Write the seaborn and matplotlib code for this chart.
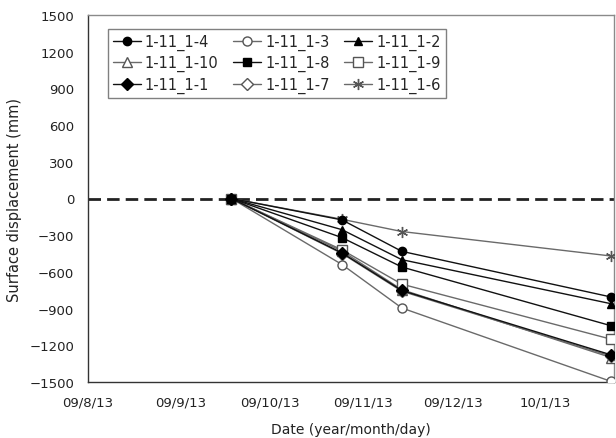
import matplotlib
matplotlib.use("Agg")
import matplotlib.pyplot as plt
import pandas as pd
import seaborn as sns

sns.set_theme(style="white")
plt.rcParams['font.family'] = ['DejaVu Sans']

# Survey dates and surface displacement readings (mm) per measuring point
dates = ["2009-09-30", "2009-11-06", "2009-11-26", "2010-02-04"]
names = ["1-11_1-4", "1-11_1-3", "1-11_1-2",
         "1-11_1-10", "1-11_1-8", "1-11_1-9",
         "1-11_1-1", "1-11_1-7", "1-11_1-6"]
p1_11_1_4 = [0, -175, -432, -805]
p1_11_1_3 = [0, -540, -895, -1495]
p1_11_1_2 = [0, -255, -500, -860]
p1_11_1_10 = [0, -430, -745, -1300]
p1_11_1_8 = [0, -320, -560, -1040]
p1_11_1_9 = [0, -420, -700, -1150]
p1_11_1_1 = [0, -445, -752, -1278]
p1_11_1_7 = [0, -450, -758, -1288]
p1_11_1_6 = [0, -170, -270, -470]
values = [p1_11_1_4, p1_11_1_3, p1_11_1_2,
          p1_11_1_10, p1_11_1_8, p1_11_1_9,
          p1_11_1_1, p1_11_1_7, p1_11_1_6]

tick_dates = ["2009-08-13", "2009-09-13", "2009-10-13",
              "2009-11-13", "2009-12-13", "2010-01-13"]
tick_labels = ["09/8/13", "09/9/13", "09/10/13", "09/11/13", "09/12/13", "10/1/13"]
y_ticks = [-1500, -1200, -900, -600, -300, 0, 300, 600, 900, 1200, 1500]

# marker, filled?
styles = [("o", True), ("o", False), ("^", True),
          ("^", False), ("s", True), ("s", False),
          ("D", True), ("D", False), ((6, 2, 0), False)]

x = pd.to_datetime(dates)

fig = plt.figure(figsize=(6.16, 4.39), dpi=100)
ax = fig.add_axes([88 / 616, 1 - 383 / 439, 526 / 616, 367 / 439])

ax.axhline(0, color="#222222", lw=2.0, dashes=(4.5, 2.2), zorder=1)

for name, vals, (mk, filled) in zip(names, values, styles):
    if filled:
        lc, fc, ec, ms, z = "#111111", "#000000", "#000000", 6, 4
    else:
        lc, fc, ec, ms, z = "#6a6a6a", "white", "#555555", 6.5, 3
    if mk == (6, 2, 0):
        fc = "#555555"
        ms = 8
    sns.lineplot(x=x, y=vals, ax=ax, color=lc, lw=1.0, marker=mk,
                 markersize=ms, markerfacecolor=fc, markeredgecolor=ec,
                 markeredgewidth=1.0, label=name, zorder=z)

h, l = ax.get_legend_handles_labels()
lookup = dict(zip(l, h))
# legend reads across rows: reorder for matplotlib's column-major fill
order = [0, 3, 6, 1, 4, 7, 2, 5, 8]
leg = ax.legend([lookup[names[i]] for i in order], [names[i] for i in order],
                ncol=3, loc="upper left", bbox_to_anchor=(0.038, 0.962),
                fontsize=10.5, frameon=True, fancybox=False, framealpha=1,
                edgecolor="#808080", handlelength=1.9, handletextpad=0.3,
                columnspacing=1.0, labelspacing=0.36, borderpad=0.33,
                borderaxespad=0)
leg.get_frame().set_linewidth(1.0)

ax.set_xlim(pd.Timestamp("2009-08-13"), pd.Timestamp("2010-02-05"))
ax.set_ylim(-1500, 1500)
ax.set_xticks(pd.to_datetime(tick_dates))
ax.set_xticklabels(tick_labels)
ax.set_yticks(y_ticks)
ax.tick_params(axis="both", direction="in", length=4, width=0.8,
               colors="#333333", labelsize=9.5, labelcolor="#222222")
ax.tick_params(axis="x", pad=9.5)
ax.tick_params(axis="y", pad=10)

for side in ["left", "bottom"]:
    ax.spines[side].set_color("#333333")
    ax.spines[side].set_linewidth(1.0)
for side in ["top", "right"]:
    ax.spines[side].set_color("#8a8a8a")
    ax.spines[side].set_linewidth(1.0)

ax.set_xlabel("Date (year/month/day)", fontsize=10, color="#222222", labelpad=10)
ax.set_ylabel("Surface displacement (mm)", fontsize=10.5, color="#222222", labelpad=5)

fig.savefig("out.png", dpi=100)
